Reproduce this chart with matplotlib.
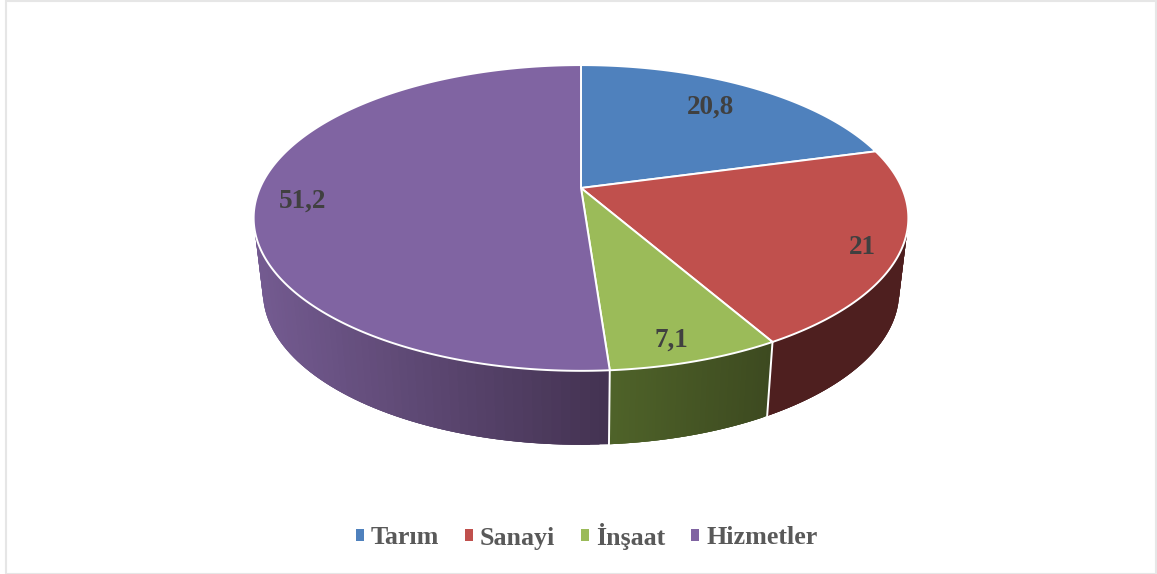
# -*- coding: utf-8 -*-
import numpy as np
import matplotlib
matplotlib.use('Agg')
import matplotlib.pyplot as plt
from matplotlib.collections import PolyCollection
from matplotlib.patches import Patch, Polygon, Rectangle

# data
sectors = ['Tarım', 'Sanayi', 'İnşaat', 'Hizmetler']
values = [20.8, 21, 7.1, 51.2]
value_labels = ['20,8', '21', '7,1', '51,2']

# colors
top_colors = ['#4f81bd', '#c0504d', '#9bbb59', '#8064a2']
side_left = [None, '#4e1f1f', '#4f6329', '#745b91']
side_right = [None, '#4e1f1f', '#3d4a20', '#443352']

# label places, pixels
label_x = [711, 862, 671, 302]
label_y = [107, 247, 340, 201]

# pie perspective, pixels
cx = 581
k = 0.196


def project(ang, r=1.0, y0=188, a=321, b=147):
    # ang clockwise from the top
    d = 1 + k * r * np.cos(ang)
    return cx + a * r * np.sin(ang) / d, y0 - b * r * np.cos(ang) / d


def hex2rgb(c):
    return np.array(matplotlib.colors.to_rgb(c))


fig = plt.figure(figsize=(11.57, 5.74), dpi=100)
ax = fig.add_axes([0, 0, 1, 1])
ax.set_xlim(0, 1157)
ax.set_ylim(574, 0)
ax.axis('off')

# frame
ax.add_patch(Rectangle((5.5, 0.5), 1150, 573, fc='white', ec='#e6e6e6', lw=1.5, zorder=0))

fracs = np.cumsum([0] + values) / np.sum(values) * 2 * np.pi
front_start = np.arccos(-k)
front_end = 2 * np.pi - front_start

# side wall, thin strips so it can shade
for i in range(len(values)):
    a0 = max(fracs[i], front_start)
    a1 = min(fracs[i + 1], front_end)
    if a1 <= a0:
        continue
    t = np.linspace(a0, a1, 60)
    xt, yt = project(t)
    xb, yb = project(t, y0=262, a=312)
    f = (xt - xt.max()) / (xt.min() - xt.max())
    # draw from one end and let each strip overlap the one before, no gaps
    for j in range(len(t) - 1):
        col = hex2rgb(side_right[i]) * (1 - f[j]) + hex2rgb(side_left[i]) * f[j]
        end = min(j + 3, len(t) - 1)
        quad = [(xt[j], yt[j]), (xt[end], yt[end]), (xb[end], yb[end]), (xb[j], yb[j])]
        ax.add_collection(PolyCollection([quad], facecolors=[col], edgecolors='none', zorder=2 + j * 1e-4))

# white seams on the wall
for i in range(1, len(values)):
    if front_start < fracs[i] < front_end:
        xt, yt = project(fracs[i])
        xb, yb = project(fracs[i], y0=262, a=312)
        ax.plot([xt, xb], [yt, yb], color='white', lw=1.4, zorder=3)

# top of the pie
for i in range(len(values)):
    t = np.linspace(fracs[i], fracs[i + 1], 300)
    xt, yt = project(t)
    pts = [(cx, 188)] + list(zip(xt, yt))
    ax.add_patch(Polygon(pts, closed=True, fc=top_colors[i], ec='white', lw=1.4, joinstyle='round', zorder=4))

for i in range(len(values)):
    ax.text(label_x[i], label_y[i], value_labels[i], ha='center', va='center', color='#404040',
            family='Liberation Serif', weight='bold', fontsize=19.5, zorder=5)

# legend
handles = [Patch(fc=c, ec='none') for c in top_colors]
leg = ax.legend(handles, sectors, ncol=4, frameon=False, loc='center',
                bbox_to_anchor=(586.5, 536), bbox_transform=ax.transData,
                prop={'family': 'Liberation Serif', 'weight': 'bold', 'size': 18.7},
                handlelength=0.31, handleheight=0.31, handletextpad=0.28, columnspacing=0.98,
                borderpad=0, labelcolor='#595959')

plt.savefig('out.png', dpi=100)
